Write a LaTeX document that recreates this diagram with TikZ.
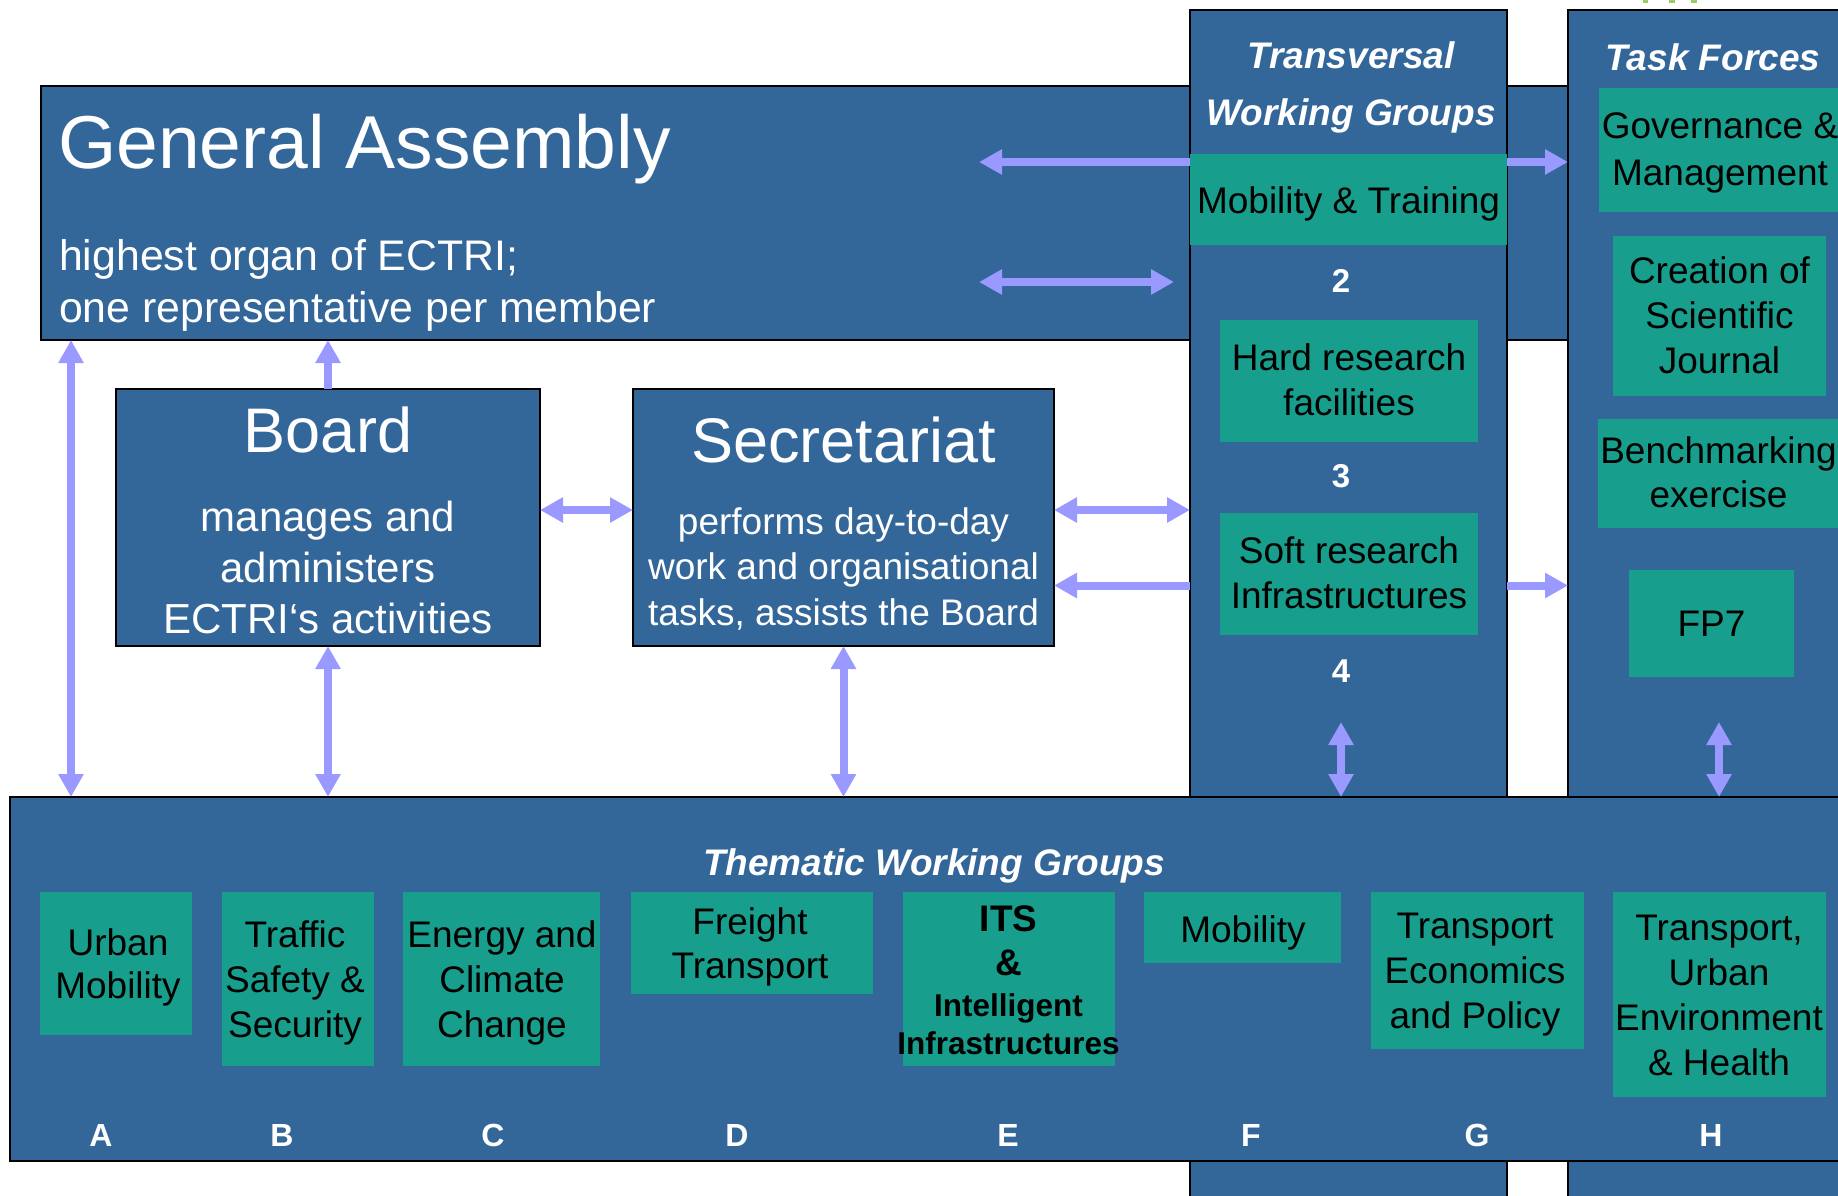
\documentclass[tikz,border=0pt]{standalone}
\usepackage{fontspec}
\setmainfont{Liberation Sans}
\usetikzlibrary{arrows.meta,calc}
\definecolor{cBlue}{RGB}{51,102,153}
\definecolor{cGreen}{RGB}{24,158,140}
\definecolor{cArrow}{RGB}{153,153,255}
\definecolor{cMark}{RGB}{153,204,102}
\newcommand\cstack[1]{\vtop{\halign{\hfil##\hfil\cr#1\crcr}}}
\newcommand\lstack[1]{\vtop{\halign{##\hfil\cr#1\crcr}}}
\newcommand\fs[2]{\fontsize{#1}{#2}\selectfont}
\tikzset{
  bigbox/.style={rectangle, draw=black, line width=2pt, fill=cBlue, inner sep=0pt, outer sep=0pt},
  greenbox/.style={rectangle, fill=cGreen, inner sep=0pt, outer sep=0pt},
  wtext/.style={text=white, inner sep=0pt, anchor=base},
  btext/.style={text=black, inner sep=0pt, anchor=base},
  gtxt/.style={btext, font=\fs{37}{45}},
  arr/.style={draw=cArrow, line width=8pt},
  numtxt/.style={wtext, font=\bfseries\fs{33}{40}},
  lettxt/.style={wtext, font=\bfseries\fs{32}{40}},
  headtxt/.style={wtext, font=\bfseries\itshape\fs{37}{57}}
}
\begin{document}
\begin{tikzpicture}[x=1pt, y=-1pt, >={Triangle[length=23pt,width=24pt]}]
\useasboundingbox (0,0) rectangle (1838,1195);
\clip (0,0) rectangle (1838,1195);

% small green marks at the top edge
\fill[cMark] (1643,0) rectangle (1648,3);
\fill[cMark] (1669,0) rectangle (1675,3);
\fill[cMark] (1691,0) rectangle (1697,3);

% General Assembly
\node[bigbox, minimum width=1527pt, minimum height=254pt] (GA) at (804.5,213) {};
\node[wtext, anchor=base west, font=\fs{75}{80}] (GAt) at (58,168) {General Assembly};
\node[wtext, anchor=base west, font=\fs{42.8}{52}] (GAb) at (59,270)
  {\lstack{highest organ of ECTRI;\cr one representative per member}};

% Transversal Working Groups column
\node[bigbox, minimum width=317pt, minimum height=1230pt] (TrWG) at (1348.5,625) {};
\node[headtxt] (TrWGt) at (1351,68) {\cstack{Transversal\cr Working Groups}};
\node[greenbox, minimum width=317pt, minimum height=91pt] (MT) at (1348.5,199.5) {};
\node[gtxt] (MTt) at (1348.5,213) {Mobility \& Training};
\node[numtxt] (n2) at (1341,292) {2};
\node[greenbox, minimum width=258pt, minimum height=122pt] (HR) at (1349,381) {};
\node[gtxt] (HRt) at (1349,370) {\cstack{Hard research\cr facilities}};
\node[numtxt] (n3) at (1341,487) {3};
\node[greenbox, minimum width=258pt, minimum height=122pt] (SR) at (1349,574) {};
\node[gtxt] (SRt) at (1349,563) {\cstack{Soft research\cr Infrastructures}};
\node[numtxt] (n4) at (1341,682) {4};

% Task Forces column
\node[bigbox, minimum width=300pt, minimum height=1230pt] (TF) at (1718,625) {};
\node[headtxt] (TFt) at (1713,70) {Task Forces};
\node[greenbox, minimum width=243pt, minimum height=124pt] (GM) at (1720.5,150) {};
\node[gtxt, font=\fs{37}{47}] (GMt) at (1720,138) {\cstack{Governance \&\cr Management}};
\node[greenbox, minimum width=213pt, minimum height=160pt] (CS) at (1719.5,316) {};
\node[gtxt] (CSt) at (1719.5,283) {\cstack{Creation of\cr Scientific\cr Journal}};
\node[greenbox, minimum width=244pt, minimum height=109pt] (BE) at (1720,473.5) {};
\node[gtxt, font=\fs{37}{44}] (BEt) at (1718.5,463) {\cstack{Benchmarking\cr exercise}};
\node[greenbox, minimum width=165pt, minimum height=107pt] (FP) at (1711.5,623.5) {};
\node[gtxt] (FPt) at (1711.5,636) {FP7};

% Board and Secretariat
\node[bigbox, minimum width=424pt, minimum height=257pt] (Board) at (328,517.5) {};
\node[wtext, font=\fs{63}{70}] (Boardt) at (328,452) {Board};
\node[wtext, font=\fs{42}{51}] (Boardb) at (328,531)
  {\cstack{manages and\cr administers\cr ECTRI‘s activities}};
\node[bigbox, minimum width=421pt, minimum height=257pt] (Sec) at (843.5,517.5) {};
\node[wtext, font=\fs{63}{70}] (Sect) at (843.5,462) {Secretariat};
\node[wtext, font=\fs{37}{45.5}] (Secb) at (843.5,534)
  {\cstack{performs day-to-day\cr work and organisational\cr tasks, assists the Board}};

% helper coordinates for connectors
\coordinate (yA) at (0,162);
\coordinate (yC) at (0,510);
\coordinate (yD) at (0,585.5);
\coordinate (xA) at (71,0);
\coordinate (gaTipA) at (979,162);
\coordinate (gaTipB) at (979,282);
\coordinate (gaTipC) at (1174,282);
\coordinate (twTop) at (1341,722);
\coordinate (tfTop) at (1719,722);

% horizontal connectors
\draw[arr,->] (TrWG.west |- yA) -- (gaTipA);
\draw[arr,<->] (gaTipB) -- (gaTipC);
\draw[arr,->] (TrWG.east |- yA) -- (TF.west |- yA);
\draw[arr,->] (TrWG.east |- yD) -- (TF.west |- yD);
\draw[arr,<->] (Board.east |- yC) -- (Sec.west |- yC);
\draw[arr,<->] (Sec.east |- yC) -- (TrWG.west |- yC);
\draw[arr,->] (TrWG.west |- yD) -- (Sec.east |- yD);
\draw[arr,->] (Board.north) -- (GA.south -| Board.north);

% Thematic Working Groups
\node[bigbox, minimum width=1860pt, minimum height=364pt] (TWG) at (940,979) {};
\node[headtxt] (TWGt) at (934,875) {Thematic Working Groups};

\node[greenbox, minimum width=152pt, minimum height=143pt] (gA) at (116,963.5) {};
\node[gtxt, font=\fs{37}{43}] (tA) at (118,955) {\cstack{Urban\cr Mobility}};
\node[greenbox, minimum width=152pt, minimum height=174pt] (gB) at (298,979) {};
\node[gtxt] (tB) at (295,947) {\cstack{Traffic\cr Safety \&\cr Security}};
\node[greenbox, minimum width=197pt, minimum height=174pt] (gC) at (501.5,979) {};
\node[gtxt] (tC) at (502,947) {\cstack{Energy and\cr Climate\cr Change}};
\node[greenbox, minimum width=242pt, minimum height=102pt] (gD) at (752,943) {};
\node[gtxt, font=\fs{37}{44}] (tD) at (750,934) {\cstack{Freight\cr Transport}};
\node[greenbox, minimum width=212pt, minimum height=174pt] (gE) at (1009,979) {};
\node[btext, font=\bfseries\fs{31.5}{38}] (tE) at (1008.5,931)
  {\cstack{\fs{37}{44}ITS\cr\noalign{\vskip6pt}\fs{37}{44}\&\cr\noalign{\vskip3pt}Intelligent\cr Infrastructures}};
\node[greenbox, minimum width=197pt, minimum height=71pt] (gF) at (1242.5,927.5) {};
\node[gtxt] (tF) at (1243,942) {Mobility};
\node[greenbox, minimum width=213pt, minimum height=157pt] (gG) at (1477.5,970.5) {};
\node[gtxt] (tG) at (1475,938) {\cstack{Transport\cr Economics\cr and Policy}};
\node[greenbox, minimum width=213pt, minimum height=205pt] (gH) at (1719.5,994.5) {};
\node[gtxt] (tH) at (1719,940) {\cstack{Transport,\cr Urban\cr Environment\cr \& Health}};

\node[lettxt] (lA) at (101,1146) {A};
\node[lettxt] (lB) at (282,1146) {B};
\node[lettxt] (lC) at (493,1146) {C};
\node[lettxt] (lD) at (737,1146) {D};
\node[lettxt] (lE) at (1008,1146) {E};
\node[lettxt] (lF) at (1251,1146) {F};
\node[lettxt] (lG) at (1477,1146) {G};
\node[lettxt] (lH) at (1711,1146) {H};

% vertical connectors to the Thematic Working Groups
\draw[arr,<->] (GA.south -| xA) -- (TWG.north -| xA);
\draw[arr,<->] (Board.south) -- (TWG.north -| Board.south);
\draw[arr,<->] (Sec.south) -- (TWG.north -| Sec.south);
\draw[arr,<->] (twTop) -- (TWG.north -| twTop);
\draw[arr,<->] (tfTop) -- (TWG.north -| tfTop);
\end{tikzpicture}
\end{document}
